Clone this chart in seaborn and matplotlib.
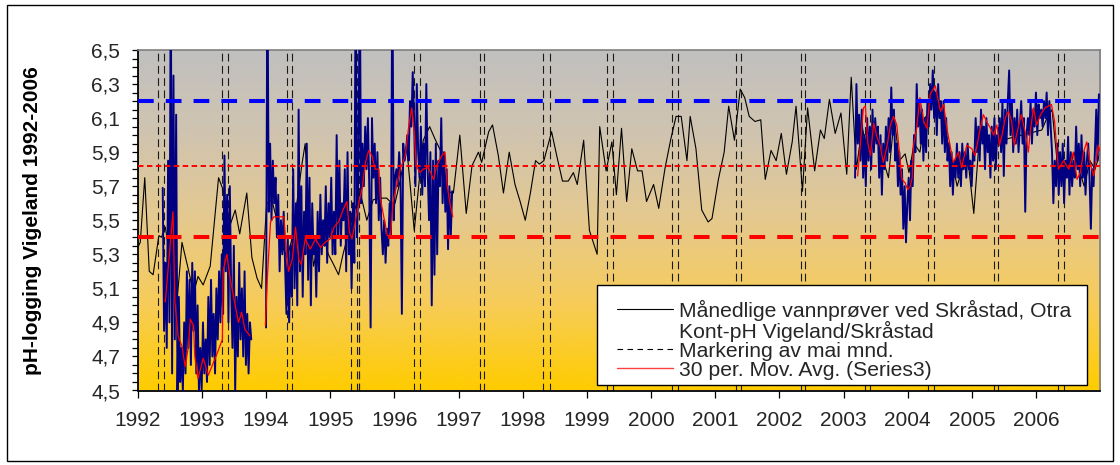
import numpy as np
import pandas as pd
import matplotlib
matplotlib.use("Agg")
import matplotlib.pyplot as plt
import seaborn as sns
from matplotlib.colors import LinearSegmentedColormap
from matplotlib.lines import Line2D
from matplotlib.legend_handler import HandlerLine2D
from matplotlib.ticker import MultipleLocator, FixedLocator, FuncFormatter
from matplotlib.patches import Rectangle

# ---------------- data ----------------
# Monthly water samples at Skråstad (decimal year, pH)
black_years = [1992.00, 1992.04, 1992.11, 1992.18, 1992.24, 1992.33, 1992.37, 1992.43, 1992.52, 1992.61,
               1992.69, 1992.79, 1992.87, 1992.94, 1993.02, 1993.13, 1993.26, 1993.33, 1993.42, 1993.52,
               1993.59, 1993.70, 1993.78, 1993.86, 1993.93, 1994.01, 1994.09, 1994.17, 1994.25, 1994.33,
               1994.41, 1994.48, 1994.56, 1994.61, 1994.67, 1994.74, 1994.81, 1994.89, 1994.97, 1995.04,
               1995.13, 1995.20, 1995.28, 1995.37, 1995.47, 1995.57, 1995.67, 1995.75, 1995.88, 1995.96,
               1996.01, 1996.09, 1996.19, 1996.31, 1996.45, 1996.55, 1996.63, 1996.73, 1996.82, 1996.92,
               1997.02, 1997.12, 1997.21, 1997.31, 1997.36, 1997.47, 1997.53, 1997.62, 1997.70, 1997.79,
               1997.88, 1997.96, 1998.04, 1998.12, 1998.20, 1998.26, 1998.33, 1998.45, 1998.53, 1998.62,
               1998.71, 1998.79, 1998.85, 1998.95, 1999.04, 1999.16, 1999.20, 1999.30, 1999.39, 1999.46,
               1999.54, 1999.62, 1999.70, 1999.79, 1999.86, 1999.93, 2000.04, 2000.12, 2000.22, 2000.31,
               2000.39, 2000.47, 2000.56, 2000.61, 2000.70, 2000.79, 2000.89, 2000.95, 2001.05, 2001.14,
               2001.21, 2001.30, 2001.39, 2001.46, 2001.53, 2001.62, 2001.71, 2001.78, 2001.87, 2001.95,
               2002.03, 2002.11, 2002.20, 2002.26, 2002.36, 2002.44, 2002.55, 2002.64, 2002.70, 2002.78,
               2002.87, 2002.96, 2003.05, 2003.12, 2003.20, 2003.29, 2003.37, 2003.45, 2003.55, 2003.62,
               2003.70, 2003.79, 2003.87, 2003.96, 2004.02, 2004.10, 2004.19, 2004.27, 2004.35, 2004.44,
               2004.52, 2004.60, 2004.69, 2004.77, 2004.85, 2004.94, 2005.03, 2005.11, 2005.19, 2005.28,
               2005.36, 2006.09, 2006.17, 2006.25, 2006.34, 2006.42, 2006.49, 2006.59, 2006.67, 2006.75,
               2006.84, 2006.92, 2007.00]
black_vals = [5.34, 5.37, 5.75, 5.20, 5.18, 5.41, 5.40, 5.46, 5.25, 5.01,
              5.37, 5.21, 5.07, 5.17, 5.12, 5.23, 5.75, 5.68, 5.45, 5.56,
              5.42, 5.66, 5.28, 5.16, 5.10, 5.60, 5.62, 5.50, 5.35, 5.28,
              5.40, 5.60, 5.83, 5.95, 5.55, 5.23, 5.35, 5.42, 5.30, 5.25,
              5.18, 5.30, 5.42, 5.55, 5.66, 5.50, 5.62, 5.63, 5.63, 5.60,
              5.60, 5.73, 5.94, 5.44, 5.97, 6.05, 5.98, 5.90, 5.67, 5.66,
              6.00, 5.54, 5.82, 5.90, 5.84, 6.02, 6.06, 5.88, 5.66, 5.90,
              5.71, 5.61, 5.50, 5.66, 5.85, 5.83, 5.85, 6.02, 5.88, 5.73,
              5.73, 5.78, 5.71, 5.97, 5.44, 5.30, 6.05, 5.79, 5.96, 5.65,
              6.04, 5.61, 5.92, 5.79, 5.79, 5.61, 5.71, 5.57, 5.81, 5.98,
              6.11, 6.11, 5.85, 6.11, 5.92, 5.56, 5.49, 5.51, 5.74, 5.90,
              6.17, 5.97, 6.27, 6.22, 6.11, 6.08, 6.09, 5.74, 5.91, 5.85,
              6.01, 5.77, 5.96, 6.17, 5.67, 6.16, 5.79, 6.03, 5.98, 6.21,
              6.01, 6.13, 5.77, 6.34, 5.80, 6.05, 5.90, 6.00, 5.95, 5.85,
              5.75, 6.10, 5.85, 5.89, 5.78, 5.95, 5.90, 6.10, 6.15, 6.25,
              6.10, 6.00, 5.85, 5.70, 5.80, 5.85, 5.54, 5.95, 6.05, 5.95,
              5.96, 6.03, 6.10, 6.15, 5.80, 5.85, 5.75, 5.90, 5.80, 5.70,
              5.85, 5.80, 5.90]

# Continuous pH logging Vigeland/Skråstad: three logging periods
blue_a_span = (1992.39, 1993.77)
blue_a = [5.69, 4.85, 5.25, 4.75, 5.85, 4.90, 7.00, 4.60, 6.35, 4.80, 6.12, 4.50,
          5.05, 4.55, 4.75, 4.50, 4.90, 4.60, 5.20, 4.75, 5.15, 4.65, 5.25,
          4.85, 5.20, 4.60, 5.00, 4.50, 4.75, 4.50, 4.90, 4.60, 4.80,
          4.55, 5.05, 4.65, 5.15, 4.70, 4.95, 4.60, 5.10, 4.80, 5.20, 4.90, 5.30,
          4.95, 5.88, 5.20, 5.65, 4.90, 5.70, 5.10, 4.75, 5.35, 4.50, 5.05, 4.70, 5.25, 4.80,
          5.10, 4.70, 5.20, 4.65, 4.95, 4.60, 4.90, 4.80]
blue_b_span = (1994.00, 1996.90)
blue_b = [4.87, 7.00, 5.55, 5.95, 5.50, 5.85, 5.60, 5.75,
          5.40, 5.65, 5.20, 5.50, 5.30, 5.55, 5.25,
          4.95, 5.40, 4.90, 5.35, 5.05, 5.80, 5.10,
          5.60, 5.00, 6.15, 5.20, 5.70, 5.05, 5.55,
          5.30, 5.95, 5.15, 5.75, 5.00, 5.60, 5.30,
          5.40, 5.05, 5.55, 5.20, 5.65, 5.30, 5.50,
          5.35, 5.70, 5.25, 5.60, 5.40, 5.75, 5.30,
          5.55, 5.30, 6.00, 5.40, 5.85, 5.35, 5.60,
          5.50, 5.80, 5.20, 5.90, 5.30, 5.55, 5.10,
          5.60, 5.25, 7.00, 5.40, 5.75,
          7.00, 5.60, 5.95, 5.70, 6.05,
          5.80, 6.10, 5.70, 4.87, 6.10, 5.75, 5.95,
          5.60, 5.90, 5.50, 5.75, 5.45,
          5.30, 5.50, 5.25, 5.45, 5.35, 5.60, 5.40,
          7.00, 5.50, 5.75,
          5.80, 5.70, 5.90, 5.75, 4.95, 5.95, 5.85,
          5.90, 6.00, 5.85, 6.20, 6.05, 6.37, 6.10,
          5.70, 6.30, 5.90,
          5.75, 6.05, 5.65, 5.95, 5.70, 6.30, 5.80,
          5.50, 5.90, 5.00, 5.85, 5.18, 5.95, 5.30,
          5.85, 5.70, 6.10, 5.60, 5.90,
          5.55, 5.80, 5.33, 5.70, 5.40, 5.67]
blue_c_span = (2003.18, 2006.98)
blue_c = [5.75, 6.30, 5.95, 6.12, 5.85,
          6.15, 5.75, 6.00, 5.70, 6.10, 5.85, 6.05, 5.80,
          6.15, 5.90, 6.10, 5.95, 6.05,
          5.75, 6.00, 5.65, 5.95, 5.80, 6.05, 5.85,
          6.10, 5.90, 6.28, 6.00, 6.15,
          5.85, 5.95, 5.70, 5.90, 5.65,
          5.80, 5.45, 5.70, 5.37, 5.60,
          5.75, 5.50, 5.85, 5.70,
          6.00, 5.90, 6.30, 6.05, 6.20, 5.95,
          6.15, 5.85, 6.10, 5.90, 6.20,
          6.05, 6.30, 6.15, 6.38, 6.10, 6.25, 6.00, 6.30, 6.10, 6.20,
          5.95, 6.20, 5.90, 6.10, 5.85,
          5.95, 5.70, 5.90, 5.65, 5.85, 5.75,
          5.95, 5.75, 5.90, 5.70, 5.95, 5.80,
          5.90, 5.75, 5.95, 5.80, 5.85, 5.70, 5.90,
          5.85, 6.10, 5.90, 6.05, 5.85, 6.15, 5.95,
          6.05, 5.80, 6.10, 5.90, 6.00, 5.75, 6.05,
          5.85, 6.10, 5.80, 6.00, 5.95,
          6.10, 5.90, 6.20, 5.76, 6.15, 5.95, 6.20,
          6.38, 6.00, 6.20, 5.90, 6.10,
          5.95, 6.15, 5.90, 6.05, 6.20, 5.95, 6.10,
          5.55, 6.00, 6.10,
          6.00, 6.20, 5.95, 6.15, 6.05, 6.25, 6.00, 6.18, 6.10,
          6.15, 6.05, 6.20, 6.10, 6.25, 6.00, 6.20, 6.05, 5.90,
          5.60, 5.85, 5.70, 5.95, 5.65,
          5.90, 5.70, 5.95, 5.60, 5.85, 5.75, 5.99, 5.65, 5.90, 5.70, 5.85, 5.75,
          6.05, 5.80, 5.95, 5.70, 6.00, 5.75, 5.90, 5.65, 5.85,
          5.95, 5.75, 5.45, 5.80, 5.70,
          5.90, 6.15, 5.85, 6.24]

# 30 per. moving average (Series3)
red_a_years = [1992.43, 1992.55, 1992.58, 1992.63, 1992.69, 1992.74, 1992.79, 1992.82, 1992.87, 1992.89,
               1992.94, 1993.02, 1993.10, 1993.23, 1993.32, 1993.33, 1993.39, 1993.44, 1993.52, 1993.57,
               1993.62, 1993.67, 1993.75]
red_a_vals = [5.02, 5.55, 5.02, 4.82, 4.76, 4.64, 4.76, 4.92, 4.88, 4.70,
              4.57, 4.69, 4.59, 4.71, 4.80, 5.20, 5.30, 5.16, 5.00, 4.90,
              4.96, 4.86, 4.82]
red_b_years = [1993.99, 1994.02, 1994.07, 1994.12, 1994.28, 1994.30, 1994.35, 1994.41, 1994.46, 1994.51,
               1994.55, 1994.61, 1994.69, 1994.77, 1994.85, 1994.92, 1995.00, 1995.06, 1995.13, 1995.21,
               1995.26, 1995.30, 1995.34, 1995.39, 1995.45, 1995.50, 1995.55, 1995.60, 1995.65, 1995.70,
               1995.76, 1995.78, 1995.83, 1995.89, 1995.94, 1995.98, 1996.04, 1996.09, 1996.17, 1996.22,
               1996.27, 1996.31, 1996.34, 1996.40, 1996.45, 1996.53, 1996.61, 1996.66, 1996.74, 1996.79,
               1996.82, 1996.87, 1996.91]
red_b_vals = [4.88, 5.16, 5.49, 5.52, 5.52, 5.39, 5.20, 5.27, 5.46, 5.27,
              5.24, 5.39, 5.33, 5.39, 5.34, 5.37, 5.39, 5.46, 5.49, 5.57,
              5.61, 5.43, 5.39, 5.49, 5.61, 5.69, 5.84, 5.91, 5.88, 5.80,
              5.80, 5.63, 5.53, 5.41, 5.41, 5.61, 5.71, 5.80, 5.88, 6.04,
              6.16, 6.02, 5.82, 5.78, 5.80, 5.81, 5.74, 5.82, 5.88, 5.90,
              5.71, 5.59, 5.52]
red_c_years = [2003.22, 2003.31, 2003.34, 2003.38, 2003.42, 2003.47, 2003.52, 2003.57, 2003.62, 2003.68,
               2003.73, 2003.78, 2003.83, 2003.86, 2003.91, 2003.96, 2004.00, 2004.04, 2004.07, 2004.09,
               2004.14, 2004.19, 2004.25, 2004.30, 2004.35, 2004.43, 2004.51, 2004.56, 2004.61, 2004.66,
               2004.71, 2004.79, 2004.84, 2004.92, 2005.00, 2005.05, 2005.13, 2005.18, 2005.23, 2005.29,
               2005.34, 2005.39, 2005.43, 2005.47, 2005.52, 2005.57, 2005.62, 2005.66, 2005.72, 2005.77,
               2005.83, 2005.88, 2005.91, 2005.96, 2006.01, 2006.07, 2006.14, 2006.24, 2006.29, 2006.33,
               2006.35, 2006.43, 2006.51, 2006.58, 2006.64, 2006.69, 2006.74, 2006.79, 2006.84, 2006.90,
               2006.97, 2007.00]
red_c_vals = [5.76, 6.16, 6.17, 5.95, 5.88, 6.07, 5.99, 5.94, 5.84, 5.94,
              6.06, 6.11, 6.06, 5.94, 5.74, 5.72, 5.68, 5.70, 5.75, 5.94,
              6.04, 6.22, 6.08, 6.04, 6.24, 6.29, 6.14, 6.18, 6.04, 5.94,
              5.84, 5.90, 5.81, 5.94, 5.92, 5.88, 6.04, 6.12, 6.08, 6.04,
              6.00, 6.06, 5.94, 6.00, 6.10, 6.14, 6.08, 5.94, 6.04, 6.12,
              6.02, 5.90, 6.02, 6.16, 6.06, 6.12, 6.16, 6.18, 6.08, 5.88,
              5.80, 5.85, 5.80, 5.90, 5.74, 5.78, 5.90, 5.96, 5.84, 5.76,
              5.94, 5.90]

# Markings of May (start / end of month)
may_marks = [1992.32, 1992.41, 1993.32, 1993.40, 1994.33, 1994.40, 1995.32, 1995.42, 1995.445, 1995.455,
             1996.31, 1996.40, 1997.33, 1997.40, 1998.32, 1998.42, 1999.31, 1999.40, 2000.33, 2000.42,
             2001.32, 2001.40, 2002.34, 2002.40, 2003.33, 2003.42, 2004.32, 2004.41, 2005.34, 2005.41,
             2006.34, 2006.43]

# Reference levels
upper_level = 6.2
mid_level = 5.82
lower_level = 5.4

year_ticks = list(range(1992, 2007))
ph_ticks = [4.5, 4.7, 4.9, 5.1, 5.3, 5.5, 5.7, 5.9, 6.1, 6.3, 6.5]

legend_labels = ["Månedlige vannprøver ved Skråstad, Otra",
                 "Kont-pH Vigeland/Skråstad",
                 "Markering av mai mnd.",
                 "30 per. Mov. Avg. (Series3)"]
y_title = "pH-logging Vigeland 1992-2006"

# ---------------- frames ----------------
black_df = pd.DataFrame({"year": black_years, "ph": black_vals})
blue_df = pd.concat([
    pd.DataFrame({"year": np.linspace(span[0], span[1], len(v)), "ph": v, "seg": i})
    for i, (span, v) in enumerate([(blue_a_span, blue_a), (blue_b_span, blue_b), (blue_c_span, blue_c)])
], ignore_index=True)
red_df = pd.concat([
    pd.DataFrame({"year": yrs, "ph": v, "seg": i})
    for i, (yrs, v) in enumerate([(red_a_years, red_a_vals), (red_b_years, red_b_vals), (red_c_years, red_c_vals)])
], ignore_index=True)

# ---------------- plot ----------------
sns.set_theme(style="white")
plt.rcParams['font.family'] = ['Liberation Sans', 'DejaVu Sans']

W, H = 1120, 465
fig = plt.figure(figsize=(W / 100, H / 100), dpi=100)
fig.patch.set_facecolor("white")
ax_l, ax_r, ax_t, ax_b = 137.7, 1100.2, 50.0, 390.5
ax = fig.add_axes([ax_l / W, 1 - ax_b / H, (ax_r - ax_l) / W, (ax_b - ax_t) / H])

def to_ax(px, py):
    return (px - ax_l) / (ax_r - ax_l), (ax_b - py) / (ax_b - ax_t)

# gradient background (gray top -> gold bottom)
grad_cmap = LinearSegmentedColormap.from_list("bg", [
    (0.00, (255/255, 204/255, 0/255)),
    (0.25, (247/255, 204/255, 88/255)),
    (0.50, (229/255, 201/255, 142/255)),
    (0.75, (208/255, 196/255, 176/255)),
    (1.00, (192/255, 192/255, 192/255)),
])
ax.imshow(np.linspace(0, 1, 256).reshape(-1, 1), extent=(1992, 2007, 4.5, 6.5), origin="lower",
          aspect="auto", cmap=grad_cmap, interpolation="bicubic", zorder=0)

for xm in may_marks:
    ax.axvline(xm, color="#1a1a1a", lw=0.8, ls=(0, (7, 4)), zorder=1)

sns.lineplot(data=black_df, x="year", y="ph", color="black", lw=0.8, ax=ax,
             estimator=None, legend=False, zorder=2)
sns.lineplot(data=blue_df, x="year", y="ph", units="seg", estimator=None, color="#000080",
             lw=1.4, ax=ax, legend=False, zorder=3)
sns.lineplot(data=red_df, x="year", y="ph", units="seg", estimator=None, color="#FF0000",
             lw=0.9, ax=ax, legend=False, zorder=4)

ax.axhline(upper_level, color="#0000FF", lw=2.9, ls=(0, (3.9, 3.0)), zorder=5)
ax.axhline(lower_level, color="#FF0000", lw=2.9, ls=(0, (3.9, 3.0)), zorder=5)
ax.axhline(mid_level, color="#FF0000", lw=1.4, ls=(0, (2.8, 1.8)), zorder=5)

ax.set_xlim(1992, 2007)
ax.set_ylim(4.5, 6.5)
ax.set_xlabel("")
ax.set_ylabel("")

ax.xaxis.set_major_locator(FixedLocator(year_ticks))
ax.xaxis.set_major_formatter(FuncFormatter(lambda v, p: f"{int(round(v))}"))
ax.yaxis.set_major_locator(FixedLocator(ph_ticks))
ax.yaxis.set_minor_locator(MultipleLocator(0.05))
ax.yaxis.set_major_formatter(FuncFormatter(lambda v, p: f"{v:.1f}".replace(".", ",")))

ax.tick_params(axis="y", which="both", direction="out", length=4.5, width=0.9, color="black",
               left=True, labelsize=15, pad=8)
ax.tick_params(axis="x", which="major", direction="out", length=5, width=0.9, color="black",
               bottom=True, labelsize=15, pad=10)
ax.tick_params(axis="x", which="minor", bottom=False)

for side in ["left", "bottom"]:
    ax.spines[side].set_color("black")
    ax.spines[side].set_linewidth(1.3)
for side in ["top", "right"]:
    ax.spines[side].set_color("#808080")
    ax.spines[side].set_linewidth(1.2)

fig.text(33 / W, 1 - 221 / H, y_title, rotation=90, ha="center", va="center",
         fontsize=15, fontweight="bold", color="black")

# legend frame (drawn explicitly so its size matches the reference box)
fx0, fy0 = to_ax(597, 385)
fx1, fy1 = to_ax(1087, 285)
ax.add_patch(Rectangle((fx0, fy0), fx1 - fx0, fy1 - fy0, transform=ax.transAxes,
                       facecolor="white", edgecolor="black", lw=1.0, zorder=9, clip_on=False))

handles = [Line2D([], [], color="black", lw=0.8),
           Line2D([], [], color="none", lw=0.8),
           Line2D([], [], color="black", lw=0.8, ls=(0, (5, 4))),
           Line2D([], [], color="#FF4040", lw=1.0)]
hm = {h: HandlerLine2D(xpad=0.75) for h in handles}
lx, ly = to_ax(597, 384)
leg = ax.legend(handles, legend_labels, loc="lower left", bbox_to_anchor=(lx, ly),
                borderaxespad=0, fontsize=15.2, frameon=False, handlelength=3.4,
                handletextpad=0.28, labelspacing=0.0, borderpad=0.2, handler_map=hm)
leg.set_zorder(10)

fig.add_artist(Rectangle((7 / W, 1 - 461 / H), (1113 - 7) / W, (461 - 5) / H,
                         transform=fig.transFigure, fill=False, ec="black", lw=1.0))

fig.savefig("out.png", dpi=100)
